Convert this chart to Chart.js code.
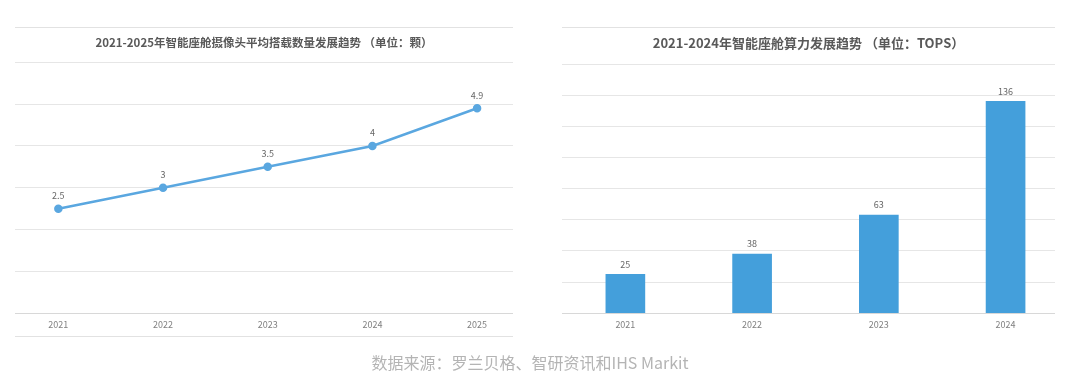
<!DOCTYPE html>
<html>
<head>
<meta charset="utf-8">
<script src="https://cdn.jsdelivr.net/npm/chart.js@4/dist/chart.umd.min.js"></script>
<style>
  html, body { margin: 0; padding: 0; background: #fff; }
  #page { position: relative; width: 1080px; height: 377px; overflow: hidden; }
  canvas { position: absolute; top: 0; }
  .rule { position: absolute; height: 1px; background: #e2e2e2; }
  #source {
    position: absolute; left: 0; width: 1060px; top: 351px; text-align: center;
    font: 16px "Noto Sans CJK SC", sans-serif; color: #b4b4b4; line-height: 22px;
  }
</style>
</head>
<body>
<div id="page">
  <div class="rule" style="left:15px;width:498px;top:27px"></div>
  <div class="rule" style="left:15px;width:498px;top:336px"></div>
  <div class="rule" style="left:562px;width:493px;top:27px"></div>
  <canvas id="left" width="540" height="377" style="left:0"></canvas>
  <canvas id="right" width="540" height="377" style="left:540px"></canvas>
  <div id="source">数据来源：罗兰贝格、智研资讯和IHS Markit</div>
</div>
<script>
// 摄像头平均搭载数量（颗）
const cameraYears = [2021, 2022, 2023, 2024, 2025];
const cameraCounts = [2.5, 3, 3.5, 4, 4.9];
// 座舱算力（TOPS）
const topsYears = [2021, 2022, 2023, 2024];
const topsValues = [25, 38, 63, 136];

const FONT = '"Noto Sans CJK SC", sans-serif';

// 数值标签，画在点/柱子上方
const valueLabels = {
  id: 'valueLabels',
  afterDatasetsDraw(chart, args, opts) {
    const ctx = chart.ctx;
    const meta = chart.getDatasetMeta(0);
    ctx.save();
    ctx.font = opts.size + 'px ' + FONT;
    ctx.fillStyle = '#666';
    ctx.textAlign = 'center';
    ctx.textBaseline = 'middle';
    meta.data.forEach((el, i) => {
      ctx.fillText(String(chart.data.datasets[0].data[i].y), el.x, el.y - opts.offset);
    });
    ctx.restore();
  }
};

const gridColor = (c) => c.tick && c.tick.value === 0 ? '#d8d8d8' : '#e6e6e6';

function xAxis(years, min, max) {
  return {
    type: 'linear', min: min, max: max, offset: false,
    afterBuildTicks: (axis) => { axis.ticks = years.map(v => ({ value: v })); },
    grid: { display: false, drawTicks: false },
    border: { display: false },
    ticks: { padding: 6, color: '#808080', font: { family: FONT, size: 9 }, callback: v => String(v), maxRotation: 0 }
  };
}

function yAxis(max, step) {
  return {
    min: 0, max: max,
    ticks: { display: false, stepSize: step },
    grid: { color: gridColor, drawTicks: false },
    border: { display: false },
    afterFit: (axis) => { axis.width = 0; }
  };
}

new Chart(document.getElementById('left'), {
  type: 'line',
  data: {
    datasets: [{
      data: cameraYears.map((y, i) => ({ x: y, y: cameraCounts[i] })),
      borderColor: '#5aa7e0',
      backgroundColor: '#5aa7e0',
      borderWidth: 2.5,
      pointRadius: 3,
      tension: 0
    }]
  },
  options: {
    responsive: false, animation: false, devicePixelRatio: 1,
    layout: { padding: { left: 15, right: 27, top: 0, bottom: 41 } },
    plugins: {
      legend: { display: false }, tooltip: { enabled: false },
      title: {
        display: true,
        text: '2021-2025年智能座舱摄像头平均搭载数量发展趋势 （单位：颗）',
        color: '#595959',
        font: { family: FONT, size: 11.5, weight: 'bold' },
        padding: { top: 36, bottom: 12.5 }
      },
      valueLabels: { size: 9, offset: 13 }
    },
    scales: {
      x: xAxis(cameraYears, 2020.586, 2025.343),
      y: yAxis(6, 1)
    }
  },
  plugins: [valueLabels]
});

new Chart(document.getElementById('right'), {
  type: 'bar',
  data: {
    datasets: [{
      data: topsYears.map((y, i) => ({ x: y, y: topsValues[i] })),
      backgroundColor: '#449fdb',
      barThickness: 39
    }]
  },
  options: {
    responsive: false, animation: false, devicePixelRatio: 1,
    layout: { padding: { left: 22, right: 25, top: 0, bottom: 41 } },
    plugins: {
      legend: { display: false }, tooltip: { enabled: false },
      title: {
        display: true,
        text: '2021-2024年智能座舱算力发展趋势 （单位：TOPS）',
        color: '#595959',
        font: { family: FONT, size: 13, weight: 'bold' },
        padding: { top: 35.2, bottom: 13.2 }
      },
      valueLabels: { size: 9, offset: 10 }
    },
    scales: {
      x: xAxis(topsYears, 2020.5, 2024.39),
      y: yAxis(160, 20)
    }
  },
  plugins: [valueLabels]
});
</script>
</body>
</html>
